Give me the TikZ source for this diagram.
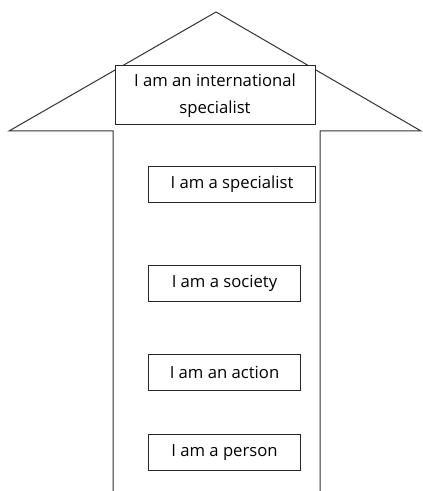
\documentclass[tikz,border=0pt]{standalone}
\usepackage{fontspec}
\setmainfont{Open Sans}
\usepackage{tikz}
\usetikzlibrary{positioning}

\begin{document}
\begin{tikzpicture}[
    x=0.75pt, y=-0.75pt,
    font=\fontsize{12.5}{20}\selectfont,
    level/.style={draw=black!85, line width=0.75pt, fill=white, inner sep=0pt,
      minimum height=27pt, align=center, anchor=north west}
  ]
  % Frame
  \useasboundingbox (0,0) rectangle (422,491);

  % Arrow outline (open at the bottom)
  \draw[black!80, line width=0.75pt]
    (113,491) -- (113,131) -- (9,131) -- (216,12) -- (421,131) -- (320,131) -- (320,491);

  % Head box
  \node[level, anchor=center, minimum width=150pt, minimum height=44.25pt]
    (intl) at (215,95.5) {I am an international\\specialist};

  % Shaft boxes
  \foreach \name/\y/\w/\label in {spec/166/125.25pt/I am a specialist,
      soc/265/114pt/I am a society, act/354/114pt/I am an action,
      pers/434/114pt/I am a person} {
    \node[level, minimum width=\w] (\name) at (148,\y) {\label};
  }

\end{tikzpicture}
\end{document}
